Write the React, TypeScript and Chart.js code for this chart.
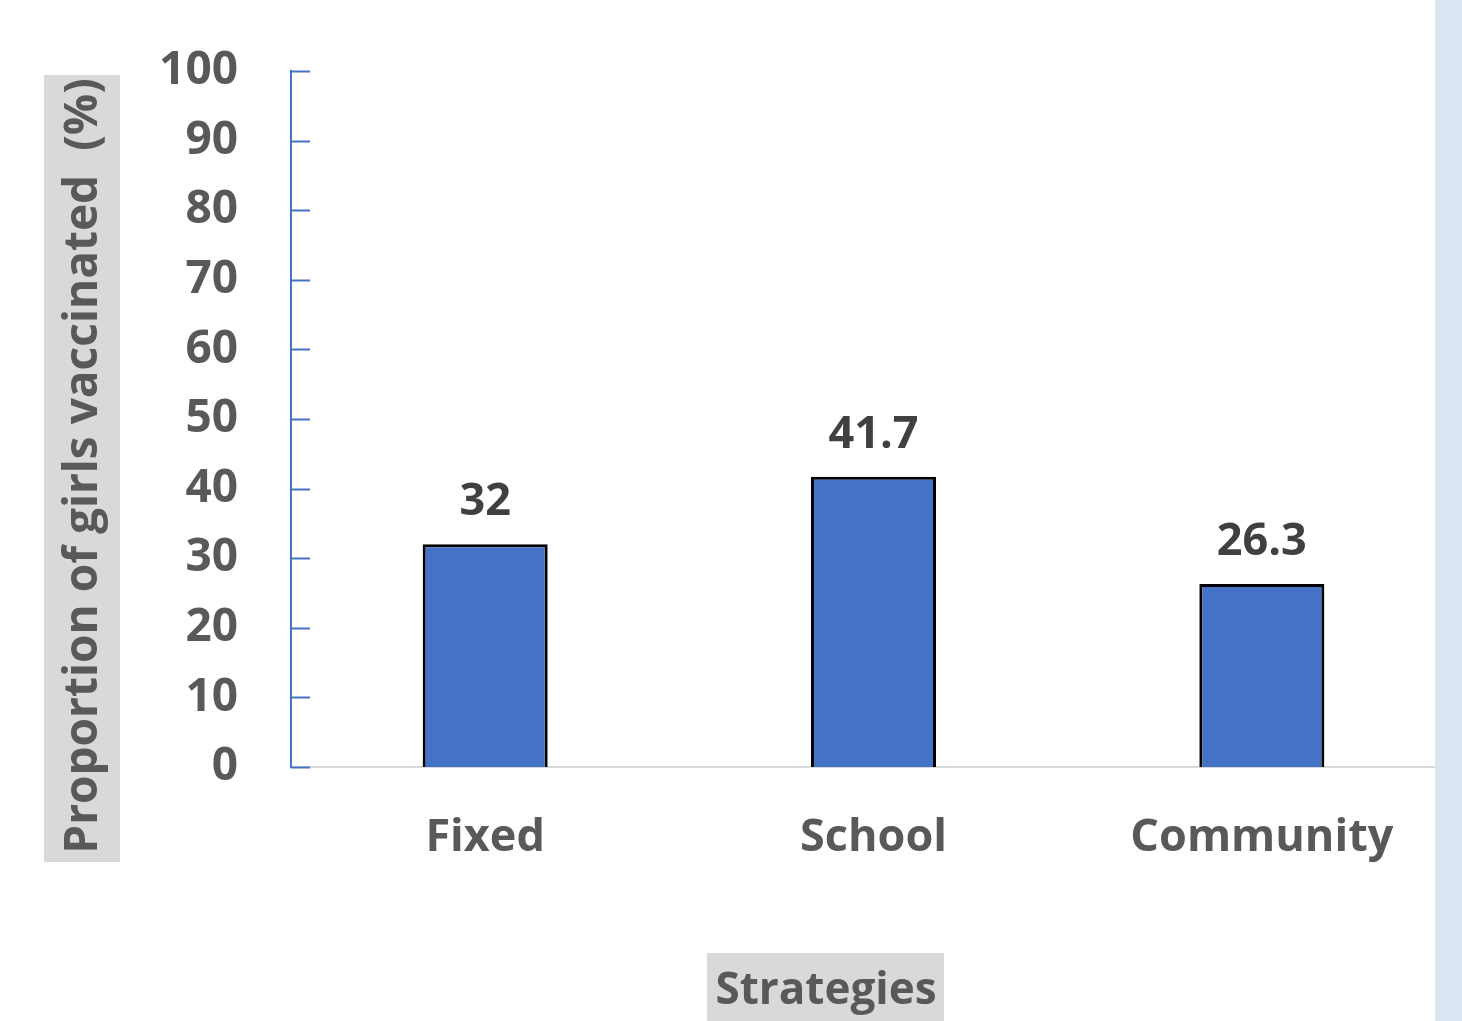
import React, { useEffect, useRef } from "react";
import { Chart, registerables } from "chart.js";

Chart.register(...registerables);

const categories = ["Fixed", "School", "Community"];
const values = [32, 41.7, 26.3];
const valueLabels = ["32", "41.7", "26.3"];
const yTicks = [0, 10, 20, 30, 40, 50, 60, 70, 80, 90, 100];
const yTitle = "Proportion of girls vaccinated  (%)";
const xTitle = "Strategies";

const FONT = "'Open Sans', 'DejaVu Sans', sans-serif";

const decorPlugin = {
  id: "decor",
  afterDraw(chart: any) {
    const ctx = chart.ctx;
    const ys = chart.scales.y;
    const area = chart.chartArea;
    ctx.save();
    // inward tick marks
    ctx.strokeStyle = "#4472C4";
    ctx.lineWidth = 2;
    for (const t of yTicks) {
      const py = Math.round(ys.getPixelForValue(t)) + 0.5;
      ctx.beginPath();
      ctx.moveTo(area.left, py);
      ctx.lineTo(area.left + 19, py);
      ctx.stroke();
    }
    // data labels
    const meta = chart.getDatasetMeta(0);
    ctx.fillStyle = "#404040";
    ctx.font = `bold 45px ${FONT}`;
    ctx.textAlign = "center";
    ctx.textBaseline = "middle";
    meta.data.forEach((bar: any, i: number) => {
      ctx.fillText(valueLabels[i], bar.x, bar.y - 42);
    });
    // y title
    ctx.fillStyle = "#d9d9d9";
    ctx.fillRect(44, 75, 76, 787);
    ctx.fillStyle = "#595959";
    ctx.font = `bold 46px ${FONT}`;
    ctx.translate(84, 466);
    ctx.rotate(-Math.PI / 2);
    ctx.fillText(yTitle, 0, 0);
    ctx.setTransform(1, 0, 0, 1, 0, 0);
    // x title
    ctx.fillStyle = "#d9d9d9";
    ctx.fillRect(707, 953, 237, 70);
    ctx.fillStyle = "#595959";
    ctx.font = `bold 44px ${FONT}`;
    ctx.fillText(xTitle, 826, 991);
    // right strip
    ctx.fillStyle = "#dce6f2";
    ctx.fillRect(1435, 0, 27, 1021);
    ctx.restore();
  },
};

export default function App() {
  const ref = useRef<HTMLCanvasElement>(null);
  useEffect(() => {
    document.body.style.margin = "0";
    const chart = new Chart(ref.current as HTMLCanvasElement, {
      type: "bar",
      data: {
        labels: categories,
        datasets: [
          {
            data: values,
            backgroundColor: "#4472C4",
            borderColor: "#000000",
            borderWidth: 3,
            categoryPercentage: 1,
            barPercentage: 0.322,
          },
        ],
      },
      options: {
        animation: false,
        responsive: false,
        devicePixelRatio: 1,
        layout: { padding: { top: 71, right: 6, left: 0, bottom: 0 } },
        plugins: { legend: { display: false }, tooltip: { enabled: false }, title: { display: false } },
        scales: {
          x: {
            grid: { display: false, drawTicks: false },
            border: { color: "#d9d9d9", width: 2 },
            ticks: {
              color: "#595959",
              font: { family: FONT, size: 45, weight: "bold" },
              padding: 44,
            },
            afterFit(scale: any) {
              scale.height = 1021 - 767;
              scale.paddingLeft = 0;
              scale.paddingRight = 0;
            },
          },
          y: {
            min: 0,
            max: 100,
            grid: { display: false, drawTicks: false },
            border: { color: "#4472C4", width: 2 },
            afterBuildTicks(scale: any) {
              scale.ticks = yTicks.map((v) => ({ value: v }));
            },
            ticks: {
              color: "#595959",
              font: { family: FONT, size: 46, weight: "bold" },
              padding: 53,
            },
            afterFit(scale: any) {
              scale.width = 291;
              scale.paddingTop = 0;
              scale.paddingBottom = 0;
            },
          },
        },
      },
      plugins: [decorPlugin],
    });
    return () => chart.destroy();
  }, []);
  return <canvas ref={ref} width={1462} height={1021} style={{ display: "block" }} />;
}
